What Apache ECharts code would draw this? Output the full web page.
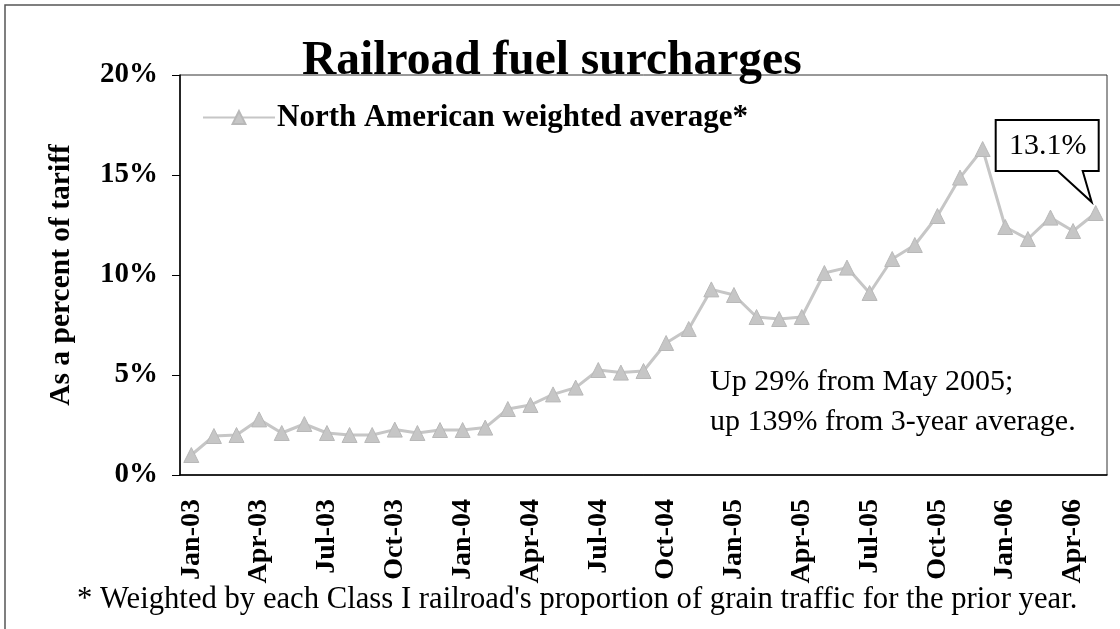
<!DOCTYPE html>
<html>
<head>
<meta charset="utf-8">
<script src="https://cdn.jsdelivr.net/npm/echarts@6/dist/echarts.min.js"></script>
<style>
  html, body { margin: 0; padding: 0; background: #fff; }
  #grafico { width: 1120px; height: 629px; }
</style>
</head>
<body>
<div id="grafico"></div>
<script>
// Categorias mensais (Jan-03 a May-06)
const meses = [
    'Jan-03', 'Feb-03', 'Mar-03', 'Apr-03', 'May-03', 'Jun-03', 'Jul-03', 'Aug-03', 'Sep-03', 'Oct-03', 'Nov-03', 'Dec-03',
    'Jan-04', 'Feb-04', 'Mar-04', 'Apr-04', 'May-04', 'Jun-04', 'Jul-04', 'Aug-04', 'Sep-04', 'Oct-04', 'Nov-04', 'Dec-04',
    'Jan-05', 'Feb-05', 'Mar-05', 'Apr-05', 'May-05', 'Jun-05', 'Jul-05', 'Aug-05', 'Sep-05', 'Oct-05', 'Nov-05', 'Dec-05',
    'Jan-06', 'Feb-06', 'Mar-06', 'Apr-06', 'May-06'
];

// Sobretaxa média ponderada (% da tarifa)
const sobretaxa = [
    1.0, 1.95, 2.0, 2.78, 2.1, 2.55, 2.1, 2.0, 2.0, 2.27, 2.1, 2.25,
    2.25, 2.37, 3.3, 3.5, 4.03, 4.37, 5.25, 5.12, 5.2, 6.6, 7.3, 9.28,
    9.0, 7.9, 7.8, 7.9, 10.1, 10.37, 9.1, 10.8, 11.5, 12.95, 14.87, 16.3,
    12.4, 11.8, 12.87, 12.2, 13.1
];

// Rótulos do eixo y
const ticksY = [0, 5, 10, 15, 20];

const fonte = '"Liberation Serif", "Times New Roman", serif';
const cinza = '#c6c6c6';

const chart = echarts.init(document.getElementById('grafico'));
chart.setOption({
    animation: false,
    title: {
        text: 'Railroad fuel surcharges',
        left: 297,
        top: 33,
        textStyle: { fontFamily: fonte, fontSize: 47.5, fontWeight: 'bold', color: '#000' }
    },
    legend: {
        left: 197,
        top: 97,
        itemWidth: 72,
        itemHeight: 16,
        itemGap: 0,
        textStyle: { fontFamily: fonte, fontSize: 31, fontWeight: 'bold', color: '#000', padding: [0, 0, 0, -3] },
        data: ['North American weighted average*']
    },
    grid: {
        left: 180,
        right: 13,
        top: 75,
        bottom: 154,
        show: true,
        borderColor: '#333',
        borderWidth: 1
    },
    xAxis: {
        type: 'category',
        data: meses,
        boundaryGap: true,
        axisLine: { lineStyle: { color: '#000', width: 1.5 } },
        axisTick: { interval: 2, length: 8, lineStyle: { color: '#000' } },
        axisLabel: {
            interval: 2,
            rotate: 90,
            margin: 24,
            fontFamily: fonte,
            fontSize: 28,
            fontWeight: 'bold',
            color: '#000'
        }
    },
    yAxis: {
        type: 'value',
        min: ticksY[0],
        max: ticksY[ticksY.length - 1],
        interval: 5,
        name: 'As a percent of tariff',
        nameLocation: 'middle',
        nameRotate: 90,
        nameGap: 104,
        nameTextStyle: { fontFamily: fonte, fontSize: 29.5, fontWeight: 'bold', color: '#000' },
        axisLine: { show: true, lineStyle: { color: '#000', width: 1.5 } },
        axisTick: { show: true, length: 8, lineStyle: { color: '#000' } },
        splitLine: { show: false },
        axisLabel: {
            margin: 22,
            formatter: '{value}%',
            fontFamily: fonte,
            fontSize: 29,
            fontWeight: 'bold',
            color: '#000'
        }
    },
    series: [{
        name: 'North American weighted average*',
        type: 'line',
        data: sobretaxa,
        symbol: 'triangle',
        symbolSize: 15,
        itemStyle: { color: cinza, borderColor: '#b8b8b8', borderWidth: 1 },
        lineStyle: { color: cinza, width: 3 }
    }]
});

// Balão "13.1%" apontando para o último ponto e textos de anotação
const ultimo = sobretaxa.length - 1;
const p = chart.convertToPixel({ seriesIndex: 0 }, [ultimo, sobretaxa[ultimo]]);
const balao = [
    [p[0] - 100, p[1] - 93], [p[0] + 3, p[1] - 93], [p[0] + 3, p[1] - 42],
    [p[0] - 13, p[1] - 42], [p[0] - 4, p[1] - 11], [p[0] - 38, p[1] - 42],
    [p[0] - 100, p[1] - 42]
];

chart.setOption({
    graphic: [
        {
            type: 'polyline',
            shape: { points: [[5, 629], [5, 5], [1120, 5]] },
            style: { stroke: '#555', lineWidth: 1.5, fill: null }
        },
        {
            type: 'polygon',
            shape: { points: balao },
            style: { stroke: '#000', lineWidth: 2, fill: '#fff' },
            z: 10
        },
        {
            type: 'text',
            x: p[0] - 48,
            y: p[1] - 67,
            style: {
                text: sobretaxa[ultimo].toFixed(1) + '%',
                font: '30px ' + fonte,
                fill: '#000',
                textAlign: 'center',
                textVerticalAlign: 'middle'
            },
            z: 11
        },
        {
            type: 'text',
            x: 710,
            y: 402,
            style: {
                text: 'Up 29% from May 2005;\nup 139% from 3-year average.',
                font: '30px ' + fonte,
                lineHeight: 40,
                fill: '#000',
                textAlign: 'left',
                textVerticalAlign: 'middle'
            }
        },
        {
            type: 'text',
            x: 77,
            y: 600,
            style: {
                text: "* Weighted by each Class I railroad's proportion of grain traffic for the prior year.",
                font: '30.7px ' + fonte,
                fill: '#000',
                textAlign: 'left',
                textVerticalAlign: 'middle'
            }
        }
    ]
});
</script>
</body>
</html>
